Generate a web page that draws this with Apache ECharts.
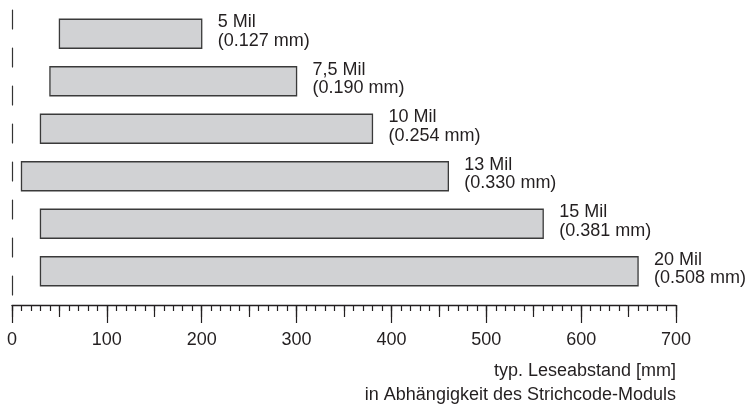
<!DOCTYPE html>
<html>
<head>
<meta charset="utf-8">
<script src="https://cdn.jsdelivr.net/npm/echarts@6/dist/echarts.min.js"></script>
<style>
html,body{margin:0;padding:0;background:#fff;}
#chart{width:749px;height:412px;}
</style>
</head>
<body>
<div id="chart"></div>
<script>
const categories = ['5 Mil', '7,5 Mil', '10 Mil', '13 Mil', '15 Mil', '20 Mil'];
const mmLabels = ['(0.127 mm)', '(0.190 mm)', '(0.254 mm)', '(0.330 mm)', '(0.381 mm)', '(0.508 mm)'];
const rangeStart = [50, 40, 30, 10, 30, 30];
const rangeEnd = [200, 300, 380, 460, 560, 660];
const axisTitle1 = 'typ. Leseabstand [mm]';
const axisTitle2 = 'in Abhängigkeit des Strichcode-Moduls';

const FONT = '"Liberation Sans", Arial, Helvetica, sans-serif';
const INK = '#231f20';

const seriesData = categories.map((c, i) => [i, rangeStart[i], rangeEnd[i], c + '\n' + mmLabels[i]]);

const chart = echarts.init(document.getElementById('chart'), null, {renderer: 'canvas'});

function xAxisDef(interval, tickLen, showLine, showLabel) {
  return {
    type: 'value', min: 0, max: 700, interval: interval, position: 'bottom', offset: 10,
    axisLine: {show: showLine, lineStyle: {color: INK, width: 1.3}},
    axisTick: {show: true, length: tickLen, lineStyle: {color: INK, width: 1.2}},
    axisLabel: {show: showLabel, margin: 26, color: INK, fontSize: 18, fontFamily: FONT},
    splitLine: {show: false}
  };
}

chart.setOption({
  animation: false,
  grid: {left: 12, right: 73, top: 10, bottom: 117, containLabel: false},
  xAxis: [
    xAxisDef(100, 18, true, true),
    xAxisDef(50, 12, false, false),
    xAxisDef(10, 6, false, false)
  ],
  yAxis: {
    type: 'category', data: categories, inverse: true,
    axisLabel: {show: false}, axisTick: {show: false},
    axisLine: {show: true, lineStyle: {color: '#333', width: 1.2, type: [19, 19]}},
    splitLine: {show: false}
  },
  series: [{
    type: 'custom',
    xAxisIndex: 0,
    encode: {x: [1, 2], y: 0},
    data: seriesData,
    renderItem: function (params, api) {
      const cat = api.value(0);
      const p0 = api.coord([api.value(1), cat]);
      const p1 = api.coord([api.value(2), cat]);
      const h = 29;
      return {
        type: 'group',
        children: [
          {
            type: 'rect',
            shape: {x: p0[0], y: p0[1] - h / 2, width: p1[0] - p0[0], height: h},
            style: {fill: '#d1d2d4', stroke: '#3a3a3a', lineWidth: 1.3}
          },
          {
            type: 'text',
            x: p1[0] + 16, y: p0[1] - 2,
            style: {
              text: api.value(3), fill: INK, font: '18px ' + FONT,
              lineHeight: 18.5, verticalAlign: 'middle', align: 'left'
            }
          }
        ]
      };
    }
  }],
  graphic: [
    {type: 'text', right: 73, top: 362, style: {text: axisTitle1, fill: INK, font: '18px ' + FONT, align: 'right'}},
    {type: 'text', right: 73, top: 386, style: {text: axisTitle2, fill: INK, font: '18px ' + FONT, align: 'right'}}
  ]
});
</script>
</body>
</html>
